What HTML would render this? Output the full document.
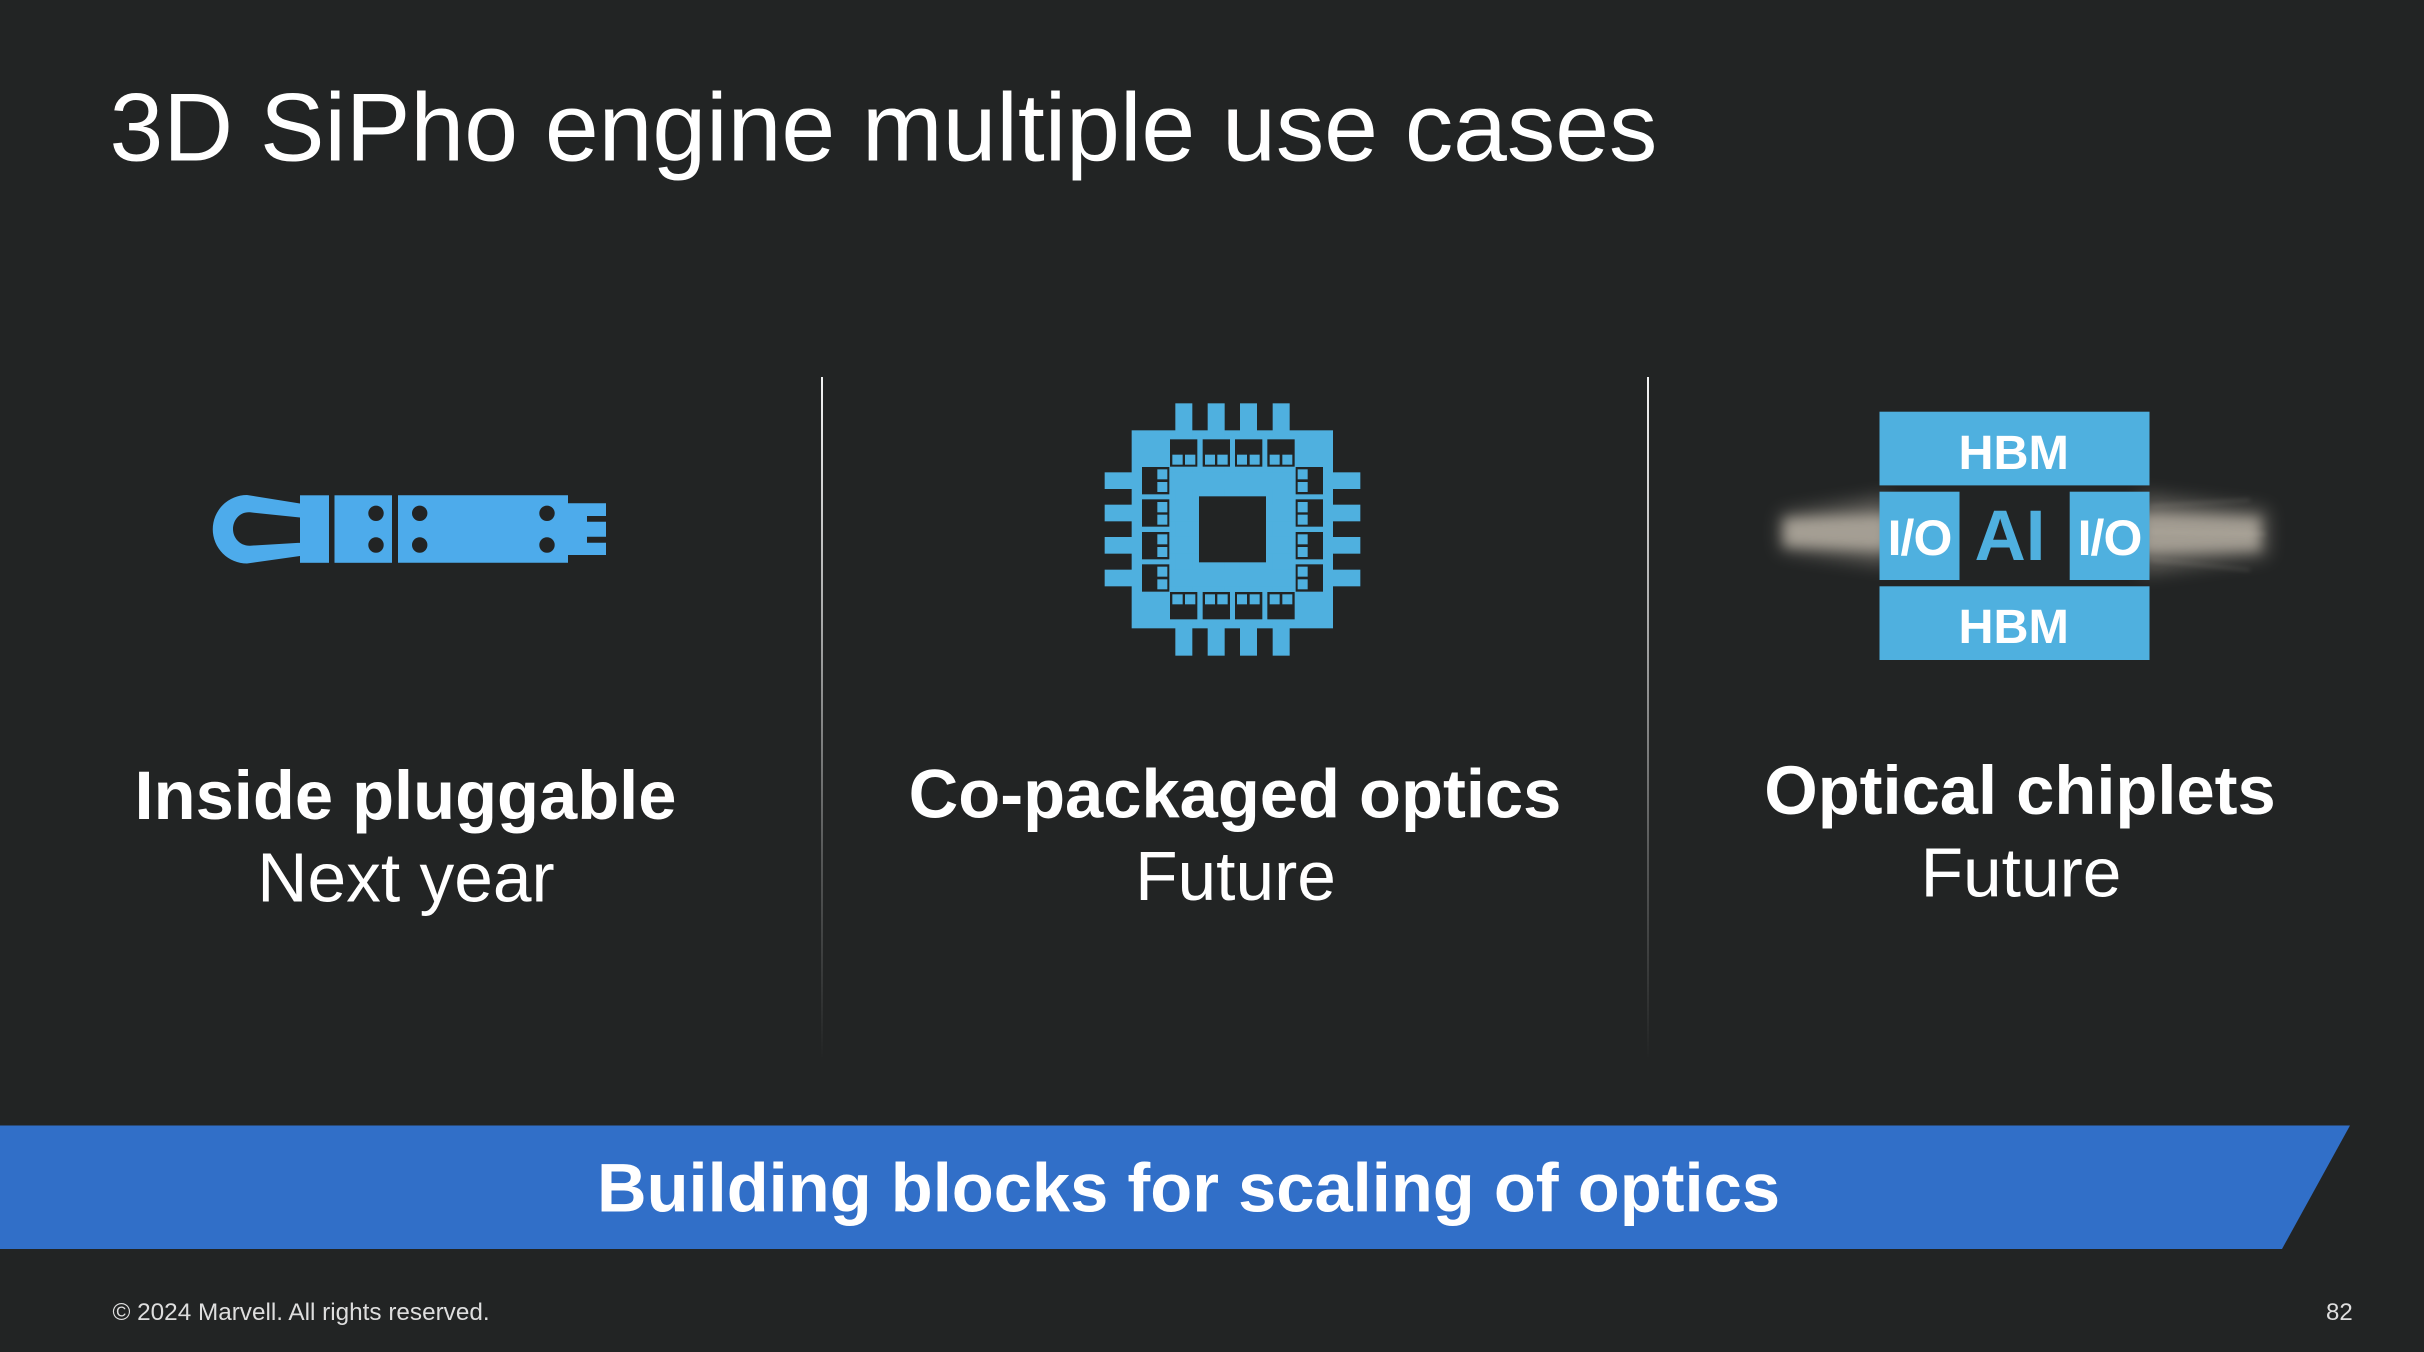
<!DOCTYPE html>
<html>
<head>
<meta charset="utf-8">
<style>
html,body{margin:0;padding:0;background:#222424;width:2424px;height:1352px;overflow:hidden}
svg{display:block}
text{font-family:"Liberation Sans",Arial,sans-serif;fill:#fff}
.b{font-weight:700;font-size:68.7px;text-anchor:middle}
.r{font-size:69.5px;text-anchor:middle}
</style>
</head>
<body>
<svg width="2424" height="1352" viewBox="0 0 2424 1352" xmlns="http://www.w3.org/2000/svg">
<defs>
<linearGradient id="fade" x1="0" y1="0" x2="0" y2="1">
<stop offset="0" stop-color="#fff" stop-opacity=".95"/>
<stop offset=".35" stop-color="#fff" stop-opacity=".62"/>
<stop offset=".7" stop-color="#fff" stop-opacity=".24"/>
<stop offset="1" stop-color="#fff" stop-opacity="0"/>
</linearGradient>
<filter id="blurA" x="-30%" y="-80%" width="160%" height="260%"><feGaussianBlur stdDeviation="9"/></filter>
<filter id="blurB" x="-30%" y="-80%" width="160%" height="260%"><feGaussianBlur stdDeviation="6"/></filter>
<filter id="blurC" x="-10%" y="-600%" width="120%" height="1300%"><feGaussianBlur stdDeviation="2.5"/></filter>
</defs>
<rect width="2424" height="1352" fill="#222424"/>

<text x="109.5" y="160.5" font-size="96.7">3D SiPho engine multiple use cases</text>

<rect x="821" y="377" width="2" height="683" fill="url(#fade)"/>
<rect x="1647" y="377" width="2" height="683" fill="url(#fade)"/>

<!-- pluggable -->
<g fill="#4dabeb">
<path fill-rule="evenodd" d="M300 503.5 L247 495 A34.2 34.2 0 0 0 247 563.5 L300 556 Z M300 517.5 L250 512.3 C240 511.5 233 520 233 529 C233 538 240 546 250 545.7 L300 542.7 Z"/>
<rect x="300" y="495.3" width="29" height="67.5"/>
<rect x="334.5" y="495.3" width="57.5" height="67.5"/>
<path d="M398 495.3 H568 V503.3 H606 V516 H587 V521.7 H606 V536.7 H587 V542.7 H606 V555 H568 V562.8 H398 Z"/>
</g>
<g fill="#222424">
<circle cx="376" cy="513.3" r="7.7"/><circle cx="376" cy="545" r="7.7"/>
<circle cx="419.7" cy="513.3" r="7.7"/><circle cx="419.7" cy="545" r="7.7"/>
<circle cx="547" cy="513.3" r="7.7"/><circle cx="547" cy="545" r="7.7"/>
</g>

<!-- chip -->
<g transform="translate(1090 390) scale(.33333)">
<g fill="#4fb0df">
<rect x="125" y="121" width="604" height="594"/>
<rect x="256" y="40" width="51" height="757"/>
<rect x="353" y="40" width="51" height="757"/>
<rect x="450" y="40" width="51" height="757"/>
<rect x="548" y="40" width="51" height="757"/>
<rect x="44" y="247" width="767" height="50"/>
<rect x="44" y="344" width="767" height="50"/>
<rect x="44" y="441" width="767" height="50"/>
<rect x="44" y="539" width="767" height="50"/>
</g>
<g fill="#222424">
<rect x="327" y="319" width="201" height="198"/>
<rect x="240" y="148" width="82" height="82"/><rect x="338" y="148" width="82" height="82"/><rect x="435" y="148" width="82" height="82"/><rect x="532" y="148" width="82" height="82"/>
<rect x="240" y="606" width="82" height="82"/><rect x="338" y="606" width="82" height="82"/><rect x="435" y="606" width="82" height="82"/><rect x="532" y="606" width="82" height="82"/>
<rect x="156" y="231" width="82" height="82"/><rect x="156" y="328" width="82" height="82"/><rect x="156" y="426" width="82" height="82"/><rect x="156" y="523" width="82" height="82"/>
<rect x="617" y="231" width="82" height="82"/><rect x="617" y="328" width="82" height="82"/><rect x="617" y="426" width="82" height="82"/><rect x="617" y="523" width="82" height="82"/>
</g>
<g fill="#4fb0df">
<rect x="247" y="194" width="31" height="30"/><rect x="285" y="194" width="31" height="30"/>
<rect x="345" y="194" width="30" height="30"/><rect x="382" y="194" width="31" height="30"/>
<rect x="441" y="194" width="30" height="30"/><rect x="479" y="194" width="30" height="30"/>
<rect x="539" y="194" width="30" height="30"/><rect x="577" y="194" width="30" height="30"/>
<rect x="247" y="613" width="31" height="30"/><rect x="285" y="613" width="31" height="30"/>
<rect x="345" y="613" width="30" height="30"/><rect x="382" y="613" width="31" height="30"/>
<rect x="441" y="613" width="30" height="30"/><rect x="479" y="613" width="30" height="30"/>
<rect x="539" y="613" width="30" height="30"/><rect x="577" y="613" width="30" height="30"/>
<rect x="202" y="238" width="30" height="30"/><rect x="202" y="276" width="30" height="30"/>
<rect x="202" y="336" width="30" height="31"/><rect x="202" y="374" width="30" height="30"/>
<rect x="202" y="433" width="30" height="30"/><rect x="202" y="471" width="30" height="30"/>
<rect x="202" y="530" width="30" height="30"/><rect x="202" y="568" width="30" height="30"/>
<rect x="623" y="238" width="30" height="30"/><rect x="623" y="276" width="30" height="30"/>
<rect x="623" y="336" width="30" height="31"/><rect x="623" y="374" width="30" height="30"/>
<rect x="623" y="433" width="30" height="30"/><rect x="623" y="471" width="30" height="30"/>
<rect x="623" y="530" width="30" height="30"/><rect x="623" y="568" width="30" height="30"/>
</g>
</g>

<!-- beams -->
<g fill="#cfc6b8">
<polygon points="1780,514 1890,496 1890,566 1780,550" opacity=".36" filter="url(#blurA)"/>
<polygon points="1784,519 1890,514 1890,551 1784,546" opacity=".62" filter="url(#blurB)"/>
<polygon points="2140,494 2268,510 2268,556 2140,574" opacity=".34" filter="url(#blurA)"/>
<polygon points="2140,513 2260,518 2260,550 2140,554" opacity=".62" filter="url(#blurB)"/>
</g>
<g stroke="#d8d0c4" stroke-width="2" opacity=".2" filter="url(#blurC)" fill="none">
<path d="M2150 506 L2250 500"/><path d="M2150 560 L2250 570"/><path d="M2150 532 L2266 534"/>
</g>

<!-- AI package -->
<g fill="#4fb0df">
<rect x="1879.5" y="411.7" width="270" height="73.7"/>
<rect x="1879.5" y="491.7" width="80" height="88.3"/>
<rect x="2069.7" y="491.7" width="79.8" height="88.3"/>
<rect x="1879.5" y="586.3" width="270" height="73.7"/>
</g>
<g font-weight="700" text-anchor="middle">
<text x="2013.7" y="469" font-size="48.5">HBM</text>
<text x="2013.7" y="643" font-size="48.5">HBM</text>
<text x="1919.5" y="555" font-size="50" letter-spacing="-1">I/O</text>
<text x="2109.5" y="555" font-size="50" letter-spacing="-1">I/O</text>
<text x="2010" y="560" font-size="71" style="fill:#4fb0df">AI</text>
</g>

<!-- captions -->
<text class="b" x="405.5" y="819">Inside pluggable</text>
<text class="r" x="406" y="901.5">Next year</text>
<text class="b" x="1235" y="817.3">Co-packaged optics</text>
<text class="r" x="1235.5" y="900">Future</text>
<text class="b" x="2020" y="814">Optical chiplets</text>
<text class="r" x="2021" y="896.7">Future</text>

<!-- banner -->
<polygon points="0,1125.5 2350,1125.5 2282,1249 0,1249" fill="#316fc8"/>
<text class="b" x="1188.5" y="1211.7">Building blocks for scaling of optics</text>

<!-- footer -->
<text x="112.5" y="1320" font-size="24.3" style="fill:#dedede">© 2024 Marvell. All rights reserved.</text>
<text x="2326" y="1320" font-size="24" style="fill:#dedede">82</text>
</svg>
</body>
</html>
